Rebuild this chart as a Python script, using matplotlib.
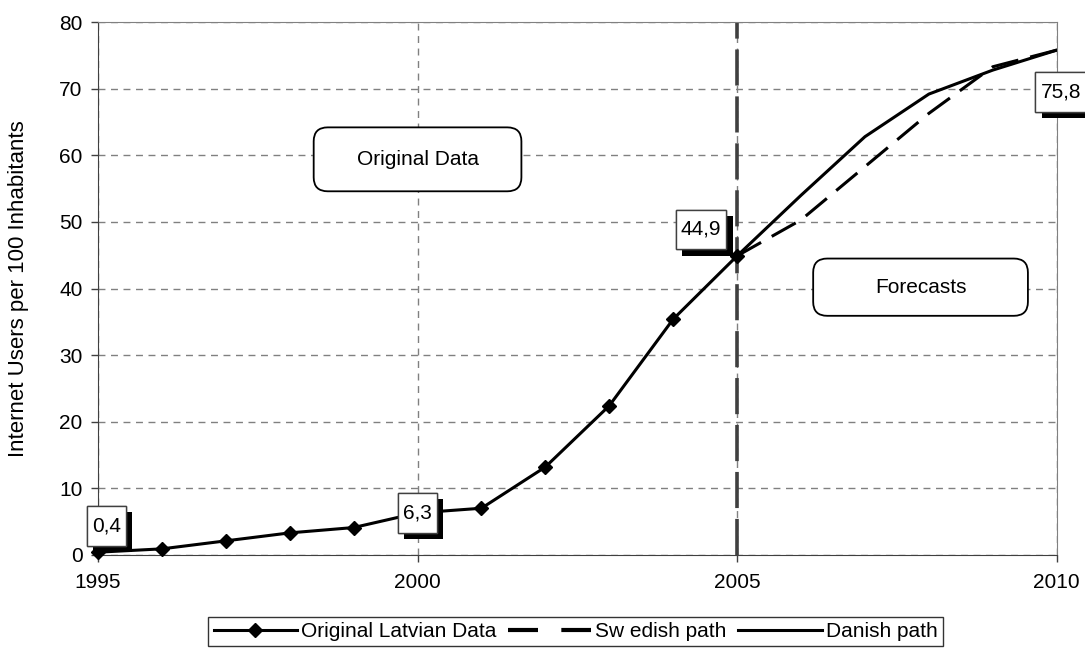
import matplotlib
matplotlib.use("Agg")
import matplotlib.pyplot as plt
import matplotlib.patheffects as pe
from matplotlib.patches import FancyBboxPatch
from matplotlib.lines import Line2D

plt.rcParams['font.family'] = ['Liberation Sans', 'DejaVu Sans']

# data
latvia_years = [1995, 1996, 1997, 1998, 1999, 2000, 2001, 2002, 2003, 2004, 2005]
latvia_users = [0.4, 0.9, 2.1, 3.3, 4.1, 6.3, 7.0, 13.2, 22.4, 35.4, 44.9]

forecast_years = [2005, 2006, 2007, 2008, 2009, 2010]
swedish_path = [44.9, 50.3, 58.3, 66.3, 73.3, 75.8]
danish_path = [44.9, 54.0, 62.8, 69.2, 72.8, 75.8]

# value labels: (year, value, text, offset in points)
value_labels = [
    (1995, 0.4, '0,4', (6, 19)),
    (2000, 6.3, '6,3', (0, 0)),
    (2005, 44.9, '44,9', (-26, 19)),
    (2010, 75.8, '75,8', (3, -30)),
]

fig = plt.figure(figsize=(10.85, 6.52), dpi=100)
ax = fig.add_axes([0.0903, 0.149, 0.8836, 0.817])

fs = 15

ax.plot(forecast_years, swedish_path, color='black', lw=2.2,
        linestyle=(0, (9, 4)), zorder=3)
ax.plot(forecast_years, danish_path, color='black', lw=2.2, zorder=3)
ax.plot(latvia_years, latvia_users, color='black', lw=2.2, marker='D',
        markersize=7, zorder=4, clip_on=False)

# forecast start line
ax.axvline(2005, color='#404040', lw=2.6, linestyle=(0, (10, 3)), zorder=2)

ax.set_xlim(1995, 2010)
ax.set_ylim(0, 80)
ax.set_xticks([1995, 2000, 2005, 2010])
ax.set_yticks(range(0, 81, 10))
ax.tick_params(labelsize=fs, length=5, width=1, color='#404040')
ax.tick_params(axis='x', pad=8)
ax.tick_params(axis='y', pad=6)
ax.grid(True, color='#808080', linestyle=(0, (5, 4)), lw=1)
ax.set_axisbelow(True)
ax.set_ylabel('Internet Users per 100 Inhabitants', fontsize=16, labelpad=22)

for side in ['top', 'right']:
    ax.spines[side].set_color('#808080')
for side in ['left', 'bottom']:
    ax.spines[side].set_color('#404040')

# value labels with shadow
for yr, val, txt, off in value_labels:
    t = ax.annotate(txt, (yr, val), xytext=off, textcoords='offset points',
                    ha='center', va='center', fontsize=fs, zorder=6,
                    annotation_clip=False,
                    bbox=dict(boxstyle='square,pad=0.25', mutation_aspect=2.0,
                              fc='white', ec='#404040', lw=1))
    t.get_bbox_patch().set_path_effects([
        pe.withSimplePatchShadow(offset=(4.5, -4.5), shadow_rgbFace='black', alpha=1),
        pe.Normal()])

# region boxes
for cx, cy, w, h, txt in [(2000.0, 59.4, 3.25, 9.6, 'Original Data'),
                          (2007.87, 40.2, 3.36, 8.6, 'Forecasts')]:
    box = FancyBboxPatch((cx - w / 2, cy - h / 2), w, h,
                         boxstyle='round,pad=0,rounding_size=0.22',
                         mutation_aspect=9.5, fc='white', ec='black', lw=1.3,
                         zorder=5)
    ax.add_patch(box)
    ax.text(cx, cy, txt, ha='center', va='center', fontsize=fs, zorder=6)

handles = [
    Line2D([], [], color='black', lw=2.2, marker='D', markersize=7),
    Line2D([], [], color='black', lw=3, linestyle=(0, (7.2, 5.6))),
    Line2D([], [], color='black', lw=2.2),
]
leg = fig.legend(handles, ['Original Latvian Data', 'Sw edish path', 'Danish path'],
                 loc='center', bbox_to_anchor=(0.5304, 0.0314), ncol=3,
                 fontsize=fs, frameon=True, fancybox=False, handlelength=4.0,
                 handletextpad=0.2, columnspacing=0.55, borderpad=0.25,
                 borderaxespad=0)
leg.get_frame().set_edgecolor('black')
leg.get_frame().set_linewidth(1)

fig.savefig('out.png', dpi=100)
